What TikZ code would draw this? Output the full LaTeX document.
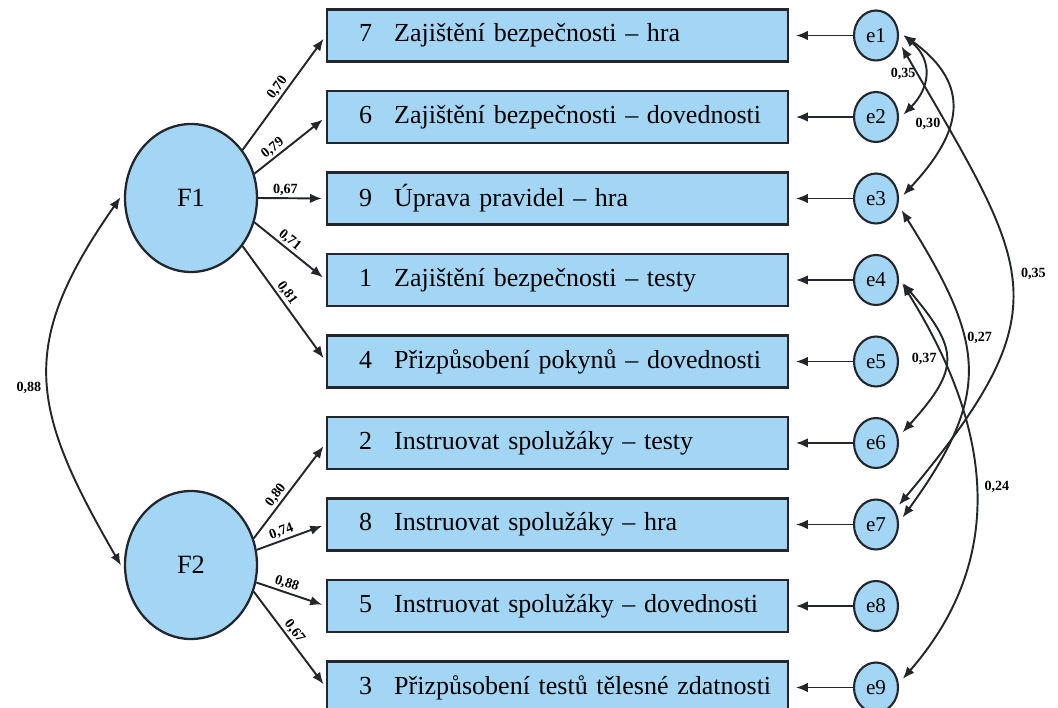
\documentclass[tikz,border=0pt]{standalone}
\usepackage{fontspec}
\setmainfont{Liberation Serif}
\usetikzlibrary{arrows.meta,shapes.geometric}
\definecolor{itemblue}{RGB}{163,214,245}
\definecolor{edgegray}{RGB}{35,38,42}

\begin{document}
\begin{tikzpicture}[x=0.02cm, y=0.02cm, >={Latex[length=6.8pt,width=5.4pt]},
  item/.style={draw=edgegray, line width=1.4pt, fill=itemblue, anchor=west, minimum height=1.04cm, text width=9.22cm, inner xsep=0pt, align=left, font=\fontsize{14.8}{18}\selectfont},
  err/.style={ellipse, draw=edgegray, line width=1.2pt, fill=itemblue, minimum width=0.88cm, minimum height=1cm, inner sep=0pt, font=\fontsize{12}{14}\selectfont},
  factor/.style={ellipse, draw=edgegray, line width=1.3pt, fill=itemblue, minimum width=2.64cm, minimum height=2.96cm, font=\fontsize{15}{18}\selectfont},
  load/.style={->, line width=1.1pt, draw=edgegray, shorten >=2.3pt},
  cov/.style={<->, line width=1.1pt, draw=edgegray, shorten >=3.5pt, shorten <=3.5pt},
  coef/.style={font=\fontsize{8}{9}\bfseries\selectfont, inner sep=1pt}]
\useasboundingbox (0,0) rectangle (1058,707);

%factors
\node[factor] (F1) at (191,509) {F1};
\node[factor] (F2) at (191,142) {F2};

%items
\node[item] (i7) at (326,671.5) {\hspace*{0.64cm}\makebox[0.7cm][l]{7}Zajištění bezpečnosti – hra};
\node[item] (i6) at (326,590) {\hspace*{0.64cm}\makebox[0.7cm][l]{6}Zajištění bezpečnosti – dovednosti};
\node[item] (i9) at (326,508.5) {\hspace*{0.64cm}\makebox[0.7cm][l]{9}Úprava pravidel – hra};
\node[item] (i1) at (326,427) {\hspace*{0.64cm}\makebox[0.7cm][l]{1}Zajištění bezpečnosti – testy};
\node[item] (i4) at (326,345.5) {\hspace*{0.64cm}\makebox[0.7cm][l]{4}Přizpůsobení pokynů – dovednosti};
\node[item] (i2) at (326,264) {\hspace*{0.64cm}\makebox[0.7cm][l]{2}Instruovat spolužáky – testy};
\node[item] (i8) at (326,182.5) {\hspace*{0.64cm}\makebox[0.7cm][l]{8}Instruovat spolužáky – hra};
\node[item] (i5) at (326,101) {\hspace*{0.64cm}\makebox[0.7cm][l]{5}Instruovat spolužáky – dovednosti};
\node[item] (i3) at (326,19.5) {\hspace*{0.64cm}\makebox[0.7cm][l]{3}Přizpůsobení testů tělesné zdatnosti};

%errors
\node[err] (e1) at (876,671.5) {e1};
\node[err] (e2) at (876,590) {e2};
\node[err] (e3) at (876,508.5) {e3};
\node[err] (e4) at (876,427) {e4};
\node[err] (e5) at (876,345.5) {e5};
\node[err] (e6) at (876,264) {e6};
\node[err] (e7) at (876,182.5) {e7};
\node[err] (e8) at (876,101) {e8};
\node[err] (e9) at (876,19.5) {e9};

%loadings F1
\draw[load] (F1.43) -- node[coef, sloped, above, pos=0.5] (l7) {0,70} (i7.west);
\draw[load] (F1.21) -- node[coef, sloped, above, pos=0.33] (l6) {0,79} (i6.west);
\draw[load] (F1.0) -- node[coef, sloped, above, pos=0.4] (l9) {0,67} (i9.west);
\draw[load] (F1.-21) -- node[coef, sloped, above, pos=0.42] (l1) {0,71} (i1.west);
\draw[load] (F1.-43) -- node[coef, sloped, above, pos=0.45] (l4) {0,81} (i4.west);

%loadings F2
\draw[load] (F2.23) -- node[coef, sloped, above, pos=0.4] (l2) {0,80} (i2.west);
\draw[load] (F2.13) -- node[coef, sloped, above, pos=0.4] (l8) {0,74} (i8.west);
\draw[load] (F2.-15) -- node[coef, sloped, above, pos=0.4] (l5) {0,88} (i5.west);
\draw[load] (F2.-23) -- node[coef, sloped, above, pos=0.47] (l3) {0,67} (i3.west);

%residuals
\draw[load, shorten >=3.7pt] (e1.west) -- (i7.east);
\draw[load, shorten >=3.7pt] (e2.west) -- (i6.east);
\draw[load, shorten >=3.7pt] (e3.west) -- (i9.east);
\draw[load, shorten >=3.7pt] (e4.west) -- (i1.east);
\draw[load, shorten >=3.7pt] (e5.west) -- (i4.east);
\draw[load, shorten >=3.7pt] (e6.west) -- (i2.east);
\draw[load, shorten >=3.7pt] (e7.west) -- (i8.east);
\draw[load, shorten >=3.7pt] (e8.west) -- (i5.east);
\draw[load, shorten >=3.7pt] (e9.west) -- (i3.east);

%covariances
\draw[cov] (F1.175) to[out=235, in=120, looseness=1.27] node[coef, left=3pt, pos=0.53] (r0) {0,88} (F2.185);
\draw[cov] (e1.10) to[out=-40, in=45, looseness=1.3] node[coef, left=3pt] (r12) {0,35} (e2.-5);
\draw[cov] (e1.10) to[out=-36, in=47, looseness=1.4] node[coef, left=3pt, pos=0.58] (r13) {0,30} (e3.-3);
\draw[cov] (e1.-14) to[out=-60, in=50, looseness=1.45] node[coef, right=5pt, pos=0.47] (r17) {0,35} (e7.38);
\draw[cov] (e3.-16) to[out=-58, in=54, looseness=1.3] node[coef, right=1pt, pos=0.4] (r37) {0,27} (e7.5);
\draw[cov] (e4.4) to[out=-50, in=48, looseness=1.5] node[coef, left=3pt] (r46) {0,37} (e6.15);
\draw[cov] (e4.4) to[out=-58, in=49, looseness=1.08] node[coef, right=4pt, pos=0.5] (r49) {0,24} (e9.10);
\end{tikzpicture}
\end{document}
